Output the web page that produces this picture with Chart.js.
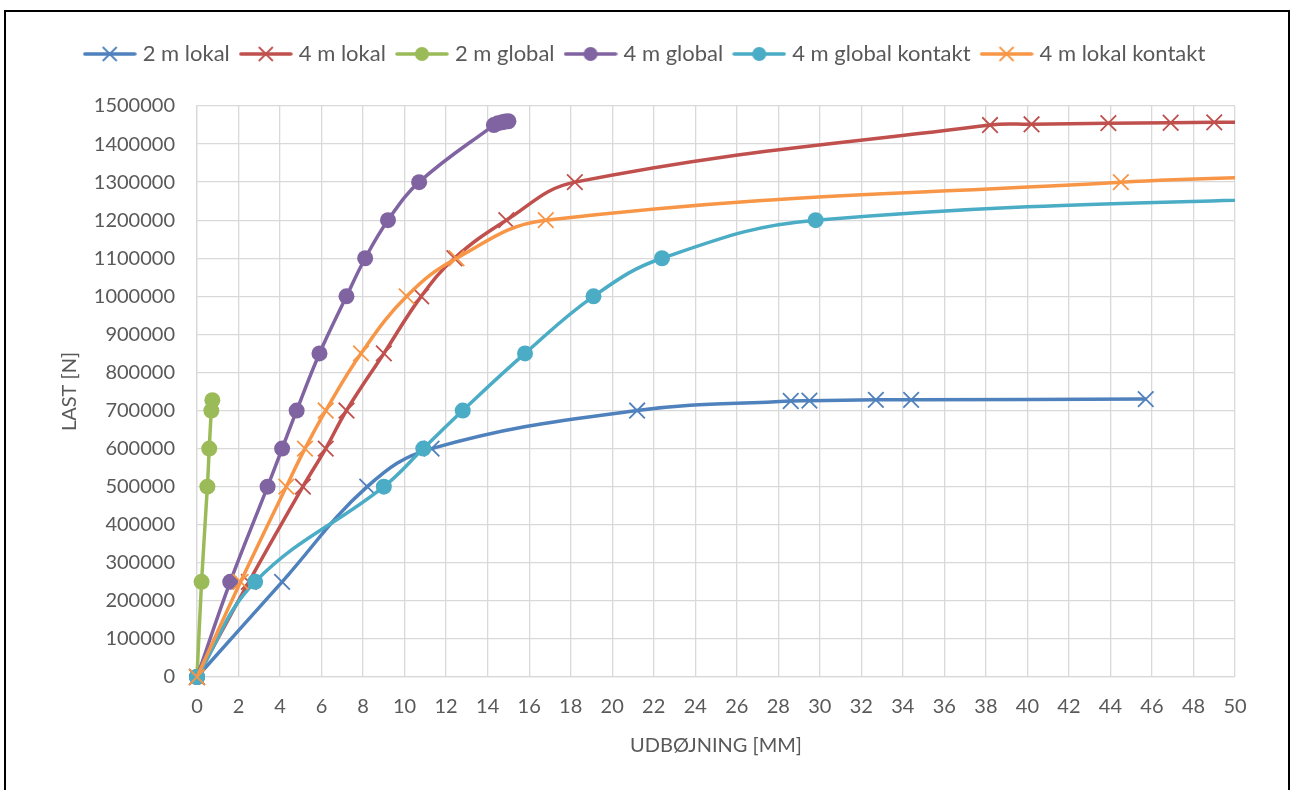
<!DOCTYPE html>
<html>
<head>
<meta charset="utf-8">
<script src="https://cdn.jsdelivr.net/npm/chart.js@4/dist/chart.umd.min.js"></script>
<style>
html, body { margin: 0; padding: 0; background: #fff; overflow: hidden; }
#wrap { position: absolute; left: 0; top: 0; width: 1290px; height: 790px; }
#frame { position: absolute; left: 4px; top: 10px; width: 1286px; height: 800px; border: 2px solid #000; box-sizing: border-box; pointer-events: none; }
</style>
</head>
<body>
<div id="wrap"><canvas id="graf"></canvas></div>
<div id="frame"></div>
<script>
// x = udbøjning [mm], y = last [N]
const lok2X = [0, 4.1, 8.2, 11.3, 21.2, 28.6, 29.5, 32.7, 34.4, 45.7];
const lok2Y = [0, 250000, 500000, 600000, 700000, 725000, 726000, 728000, 728000, 730000];

const lok4X = [0, 2.5, 5.1, 6.2, 7.2, 9.0, 10.8, 12.4, 14.9, 18.2, 38.2, 40.2, 43.9, 46.9, 49.0, 52];
const lok4Y = [0, 250000, 500000, 600000, 700000, 850000, 1000000, 1100000, 1200000, 1300000, 1450000, 1452000, 1455000, 1456000, 1457000, 1458000];

const glob2X = [0, 0.22, 0.5, 0.59, 0.69, 0.74];
const glob2Y = [0, 250000, 500000, 600000, 700000, 727000];

const glob4X = [0, 1.6, 3.4, 4.1, 4.8, 5.9, 7.2, 8.1, 9.2, 10.7, 14.3, 14.5, 14.7, 14.85, 15.0];
const glob4Y = [0, 250000, 500000, 600000, 700000, 850000, 1000000, 1100000, 1200000, 1300000, 1450000, 1455000, 1457000, 1459000, 1460000];

const globKonX = [0, 2.8, 9.0, 10.9, 12.8, 15.8, 19.1, 22.4, 29.8, 60];
const globKonY = [0, 250000, 500000, 600000, 700000, 850000, 1000000, 1100000, 1200000, 1270000];

const lokKonX = [0, 2.1, 4.3, 5.2, 6.2, 7.9, 10.1, 12.5, 16.8, 44.5, 56];
const lokKonY = [0, 250000, 500000, 600000, 700000, 850000, 1000000, 1100000, 1200000, 1300000, 1320000];

const xTicks = [0, 50, 2];          // min, max, step
const yTicks = [0, 1500000, 100000];

const tekst = '#595959';
const gitter = '#D9D9D9';

function punkter(xs, ys) {
    return xs.map((x, i) => ({ x: x, y: ys[i] }));
}

const serier = [
    { label: '2 m lokal', xs: lok2X, ys: lok2Y, farve: '#4F81BD', stil: 'crossRot' },
    { label: '4 m lokal', xs: lok4X, ys: lok4Y, farve: '#C0504D', stil: 'crossRot' },
    { label: '2 m global', xs: glob2X, ys: glob2Y, farve: '#9BBB59', stil: 'circle' },
    { label: '4 m global', xs: glob4X, ys: glob4Y, farve: '#8064A2', stil: 'circle' },
    { label: '4 m global kontakt', xs: globKonX, ys: globKonY, farve: '#4BACC6', stil: 'circle' },
    { label: '4 m lokal kontakt', xs: lokKonX, ys: lokKonY, farve: '#F79646', stil: 'crossRot' }
];

// lille billede til legenden: linje + markør
function legendeBillede(s) {
    const c = document.createElement('canvas');
    c.width = 54; c.height = 20;
    const g = c.getContext('2d');
    g.strokeStyle = s.farve;
    g.lineWidth = 3.5;
    g.lineCap = 'round';
    g.beginPath(); g.moveTo(2, 10); g.lineTo(52, 10); g.stroke();
    if (s.stil === 'circle') {
        g.fillStyle = s.farve;
        g.beginPath(); g.arc(27, 10, 7, 0, Math.PI * 2); g.fill();
    } else {
        g.lineWidth = 1.8;
        g.lineCap = 'butt';
        g.beginPath();
        g.moveTo(20, 3); g.lineTo(34, 17);
        g.moveTo(34, 3); g.lineTo(20, 17);
        g.stroke();
    }
    return c;
}

const datasets = serier.map((s, i) => ({
    label: s.label,
    data: punkter(s.xs, s.ys),
    borderColor: s.farve,
    backgroundColor: s.farve,
    borderWidth: 3.5,
    tension: 0.4,
    pointStyle: s.stil,
    pointRadius: s.stil === 'circle' ? 8 : 11,
    pointBorderWidth: s.stil === 'circle' ? 0 : 1.8,
    pointBackgroundColor: s.farve,
    pointBorderColor: s.farve,
    order: serier.length - i,
    clip: { left: 14, top: 14, right: 0, bottom: 14 }
}));

const legendeFast = {
    id: 'legendeFast',
    afterInit(chart) {
        const lg = chart.legend;
        const fit = lg.fit;
        lg.fit = function () {
            fit.call(this);
            this.height = 77;
        };
    }
};

Chart.defaults.font.family = 'Lato, "Liberation Sans", sans-serif';
Chart.defaults.font.size = 20;
Chart.defaults.color = tekst;

const ctx = document.getElementById('graf').getContext('2d');
const graf = new Chart(ctx, {
    type: 'line',
    data: { datasets: datasets },
    plugins: [legendeFast],
    options: {
        responsive: true,
        maintainAspectRatio: false,
        animation: false,
        layout: { padding: { top: 29, left: 58, right: 55, bottom: 20 } },
        plugins: {
            legend: {
                position: 'top',
                labels: {
                    usePointStyle: true,
                    pointStyleWidth: 44,
                    padding: 14,
                    color: tekst,
                    font: { size: 22 },
                    generateLabels: () => serier.map((s, i) => ({
                        text: s.label,
                        fillStyle: s.farve,
                        strokeStyle: s.farve,
                        lineWidth: 0,
                        pointStyle: legendeBillede(s),
                        hidden: false,
                        datasetIndex: i,
                        fontColor: tekst
                    }))
                }
            },
            tooltip: { enabled: false }
        },
        scales: {
            x: {
                type: 'linear',
                min: xTicks[0],
                max: xTicks[1],
                afterFit: (s) => { s.height = 93; },
                ticks: { stepSize: xTicks[2], padding: 18, color: tekst, maxRotation: 0, autoSkip: false },
                grid: { color: gitter, lineWidth: 1.3, drawTicks: false },
                border: { color: gitter, width: 1.3 },
                title: { display: true, text: 'UDBØJNING [MM]', color: tekst, font: { size: 20 }, padding: { top: 4, bottom: 12 } }
            },
            y: {
                type: 'linear',
                min: yTicks[0],
                max: yTicks[1],
                afterFit: (s) => { s.width = 139; },
                ticks: { stepSize: yTicks[2], padding: 22, color: tekst, callback: (v) => String(v) },
                grid: { color: gitter, lineWidth: 1.3, drawTicks: false },
                border: { color: gitter, width: 1.3 },
                title: { display: true, text: 'LAST [N]', color: tekst, font: { size: 20 }, padding: { top: 0, bottom: 0 } }
            }
        }
    }
});
</script>
</body>
</html>
